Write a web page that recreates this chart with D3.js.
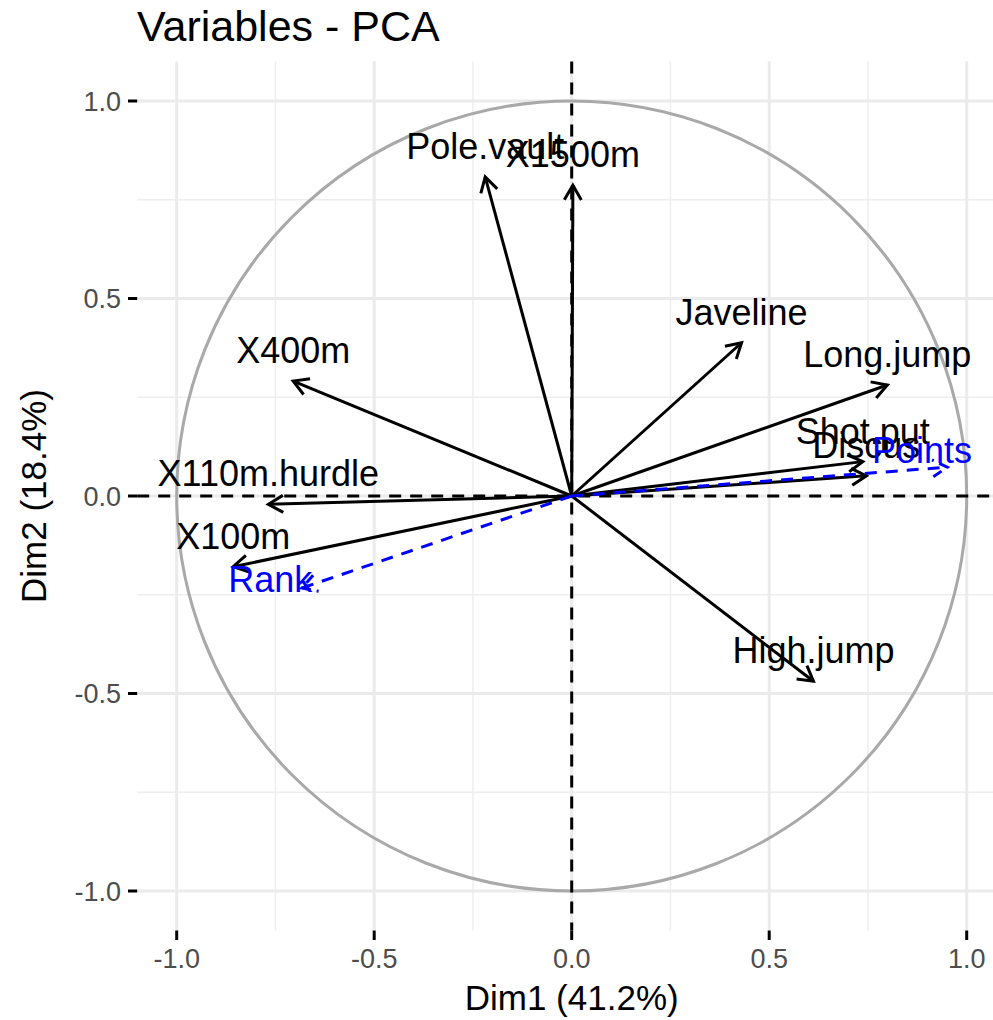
<!DOCTYPE html>
<html>
<head>
<meta charset="utf-8">
<script src="https://cdn.jsdelivr.net/npm/d3@7"></script>
<style>
	body { margin: 0; background: #fff; }
	svg text { font-family: "Liberation Sans", Arial, Helvetica, sans-serif; }
</style>
</head>
<body>
<svg class="chart"></svg>
<script>
/*Active variables and their coordinates on Dim1 / Dim2*/
const variables = ["Long.jump", "Shot.put", "High.jump", "X400m", "X110m.hurdle", "Discus", "Pole.vault", "Javeline", "X1500m", "X100m"]
const dim1 = [0.799, 0.737, 0.612, -0.705, -0.768, 0.746, -0.219, 0.430, 0.003, -0.857]
const dim2 = [0.281, 0.087, -0.469, 0.291, -0.021, 0.051, 0.808, 0.388, 0.787, -0.179]

/*Supplementary variables (blue, dashed) and where their labels sit*/
const supVariables = ["Rank", "Points"]
const supDim1 = [-0.683, 0.951]
const supDim2 = [-0.233, 0.073]
const supLabelDim1 = [-0.763, 0.887]
const supLabelDim2 = [-0.288, 0.037]

/*Axis ticks*/
const majorTicks = [-1.0, -0.5, 0.0, 0.5, 1.0]
const minorTicks = [-0.75, -0.25, 0.25, 0.75]
const tickLabels = ["-1.0", "-0.5", "0.0", "0.5", "1.0"]

const width = 993,
			height = 1020

var chart = d3.select(".chart")
		.attr("width", width)
		.attr("height", height)

/*Square panel, coord_fixed style: -1.1 .. 1.1 on both axes*/
var x = d3.scaleLinear().domain([-1.1, 1.1]).range([137.2, 1006.2])
var y = d3.scaleLinear().domain([-1.1, 1.1]).range([930.5, 61.5])

var panel = chart.append("g").attr("class", "panel")

/*Minor grid*/
panel.selectAll(".minorV")
	.data(minorTicks)
	.enter()
	.append("line")
		.attr("x1", d => x(d)).attr("x2", d => x(d))
		.attr("y1", y(1.1)).attr("y2", y(-1.1))
		.attr("stroke", "#eeeeee")
		.attr("stroke-width", 1.5)

panel.selectAll(".minorH")
	.data(minorTicks)
	.enter()
	.append("line")
		.attr("x1", x(-1.1)).attr("x2", x(1.1))
		.attr("y1", d => y(d)).attr("y2", d => y(d))
		.attr("stroke", "#eeeeee")
		.attr("stroke-width", 1.5)

/*Major grid*/
panel.selectAll(".majorV")
	.data(majorTicks)
	.enter()
	.append("line")
		.attr("x1", d => x(d)).attr("x2", d => x(d))
		.attr("y1", y(1.1)).attr("y2", y(-1.1))
		.attr("stroke", "#ebebeb")
		.attr("stroke-width", 3)

panel.selectAll(".majorH")
	.data(majorTicks)
	.enter()
	.append("line")
		.attr("x1", x(-1.1)).attr("x2", x(1.1))
		.attr("y1", d => y(d)).attr("y2", d => y(d))
		.attr("stroke", "#ebebeb")
		.attr("stroke-width", 3)

/*Correlation circle*/
panel.append("circle")
	.attr("cx", x(0))
	.attr("cy", y(0))
	.attr("r", x(1) - x(0))
	.attr("fill", "none")
	.attr("stroke", "#a9a9a9")
	.attr("stroke-width", 3)

/*Dashed reference lines through the origin*/
panel.append("line")
	.attr("x1", x(-1.1)).attr("x2", x(1.1))
	.attr("y1", y(0)).attr("y2", y(0))
	.attr("stroke", "#000")
	.attr("stroke-width", 3)
	.attr("stroke-dasharray", "12,9")

panel.append("line")
	.attr("x1", x(0)).attr("x2", x(0))
	.attr("y1", y(1.1)).attr("y2", y(-1.1))
	.attr("stroke", "#000")
	.attr("stroke-width", 3)
	.attr("stroke-dasharray", "12,9")

/*Arrow with an open chevron head*/
function drawArrow (g, dx, dy, color, dashed) {
	var x0 = x(0), y0 = y(0), x1 = x(dx), y1 = y(dy)
	var a = Math.atan2(y1 - y0, x1 - x0),
			len = 17,
			spread = Math.PI / 6

	g.append("line")
		.attr("x1", x0).attr("y1", y0)
		.attr("x2", x1).attr("y2", y1)
		.attr("stroke", color)
		.attr("stroke-width", 3)
		.attr("stroke-dasharray", dashed ? "12,9" : null)

	g.append("path")
		.attr("d", "M" + (x1 - len * Math.cos(a - spread)) + "," + (y1 - len * Math.sin(a - spread)) +
							 "L" + x1 + "," + y1 +
							 "L" + (x1 - len * Math.cos(a + spread)) + "," + (y1 - len * Math.sin(a + spread)))
		.attr("fill", "none")
		.attr("stroke", color)
		.attr("stroke-width", 3)
		.attr("stroke-dasharray", dashed ? "10,6" : null)
}

var arrows = chart.append("g").attr("class", "arrows")
variables.forEach((v, i) => drawArrow(arrows, dim1[i], dim2[i], "#000", false))
supVariables.forEach((v, i) => drawArrow(arrows, supDim1[i], supDim2[i], "#0000ff", true))

/*Variable labels, just above the tips*/
chart.append("g")
		.attr("class", "labels")
	.selectAll("text")
	.data(variables)
	.enter()
	.append("text")
		.attr("x", (d, i) => x(dim1[i]))
		.attr("y", (d, i) => y(dim2[i]) - 18)
		.attr("text-anchor", "middle")
		.attr("fill", "#000")
		.style("font-size", "36px")
		.text(d => d)

chart.append("g")
		.attr("class", "supLabels")
	.selectAll("text")
	.data(supVariables)
	.enter()
	.append("text")
		.attr("x", (d, i) => x(supLabelDim1[i]))
		.attr("y", (d, i) => y(supLabelDim2[i]) - 18)
		.attr("text-anchor", "middle")
		.attr("fill", "#0000ff")
		.style("font-size", "36px")
		.text(d => d)

/*Axes: black ticks, grey labels*/
var xAxis = chart.append("g").attr("class", "xAxis")
xAxis.selectAll("line")
	.data(majorTicks)
	.enter()
	.append("line")
		.attr("x1", d => x(d)).attr("x2", d => x(d))
		.attr("y1", 930.5).attr("y2", 940)
		.attr("stroke", "#000")
		.attr("stroke-width", 3)
xAxis.selectAll("text")
	.data(majorTicks)
	.enter()
	.append("text")
		.attr("x", d => x(d))
		.attr("y", 968)
		.attr("text-anchor", "middle")
		.attr("fill", "#4d4d4d")
		.style("font-size", "27px")
		.text((d, i) => tickLabels[i])

var yAxis = chart.append("g").attr("class", "yAxis")
yAxis.selectAll("line")
	.data(majorTicks)
	.enter()
	.append("line")
		.attr("x1", 128).attr("x2", 137.2)
		.attr("y1", d => y(d)).attr("y2", d => y(d))
		.attr("stroke", "#000")
		.attr("stroke-width", 3)
yAxis.selectAll("text")
	.data(majorTicks)
	.enter()
	.append("text")
		.attr("x", 121)
		.attr("y", d => y(d))
		.attr("dy", "0.36em")
		.attr("text-anchor", "end")
		.attr("fill", "#4d4d4d")
		.style("font-size", "27px")
		.text((d, i) => tickLabels[i])

/*Axis titles and plot title*/
chart.append("text")
	.attr("x", x(0))
	.attr("y", 1010)
	.attr("text-anchor", "middle")
	.attr("fill", "#000")
	.style("font-size", "35px")
	.text("Dim1 (41.2%)")

chart.append("text")
	.attr("transform", "translate(" + 46 + "," + y(0) + ") rotate(-90)")
	.attr("text-anchor", "middle")
	.attr("fill", "#000")
	.style("font-size", "35px")
	.text("Dim2 (18.4%)")

chart.append("text")
	.attr("x", 137)
	.attr("y", 41)
	.attr("fill", "#000")
	.style("font-size", "43px")
	.text("Variables - PCA")
</script>
</body>
</html>
